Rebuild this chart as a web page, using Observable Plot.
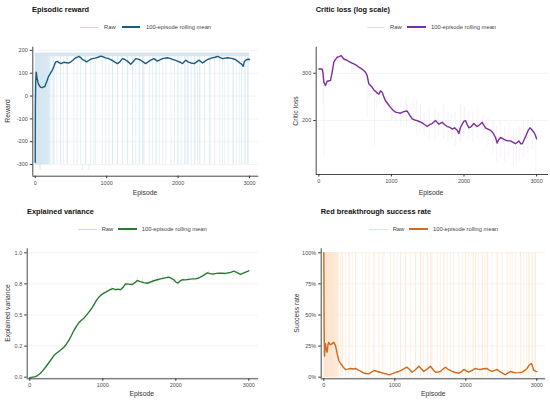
<!DOCTYPE html>
<html><head><meta charset="utf-8">
<script src="https://cdn.jsdelivr.net/npm/d3@7"></script>
<script src="https://cdn.jsdelivr.net/npm/@observablehq/plot@0.6"></script>
<style>
body{margin:0;background:#fff;font-family:"Liberation Sans",Arial,sans-serif;}
#root{position:relative;width:550px;height:402px;overflow:hidden;background:#fff;}
.panel{position:absolute;width:275px;height:202px;}
.title{position:absolute;font-weight:bold;font-size:7.4px;color:#111;white-space:nowrap;transform:translateY(-50%);}
.leg{position:absolute;font-size:5.8px;color:#444;white-space:nowrap;transform:translateY(-50%);}
.legline{position:absolute;height:0;}
.axt{position:absolute;font-size:6.8px;color:#333;white-space:nowrap;transform:translate(-50%,-50%);}
.axty{transform:translate(-50%,-50%) rotate(-90deg);}
.panel svg{position:absolute;left:0;top:40px;}
</style></head><body><div id="root"></div><script>
// ---------- data ----------
const xTicks = [0, 1000, 2000, 3000];

// Episodes where red broke through (raw reward ~ -300, raw success = 1)
const breachEpisodes = [0, 3, 5, 8, 11, 14, 17, 20, 24, 27, 31, 34, 38, 42, 45, 49, 53, 57, 60, 64, 68, 71, 75, 79, 83, 86, 90, 94, 98, 102, 106, 110, 114, 118, 122, 127, 131, 136, 140, 145, 150, 155, 160, 166, 172, 178, 185, 192, 200, 210,
  238, 259, 262, 305, 352, 356, 399, 446, 449, 540, 587, 636, 704, 708, 775, 822, 846, 939, 986, 1033, 1080, 1083, 1150, 1155, 1221, 1291, 1294, 1362, 1366, 1408, 1456, 1459, 1503, 1507, 1524, 1597, 1643, 1690, 1693, 1738, 1784, 1829, 1901, 1949, 1995, 1999, 2042, 2090, 2109, 2136, 2140, 2183, 2231, 2235, 2272, 2301, 2305, 2372, 2442, 2446, 2512, 2583, 2623, 2653, 2699, 2770, 2774, 2817, 2857, 2887, 2891, 2934, 2938, 2974, 2981];
const deepEpisodes = [55, 75, 660, 750];
const rewardBandEp = [0, 3000];
const rewardBandLo = [172, 172];
const rewardBandHi = [189, 189];

// Episodic reward, 100-episode rolling mean
const rewardEp = [0, 2, 6, 14, 25, 37, 50, 65, 80, 98, 115, 135, 150, 168, 185, 205, 222, 238, 260, 285, 310, 331, 360, 400, 440, 471, 500, 530, 565, 590, 612, 640, 660, 682, 720, 760, 799, 840, 880, 916, 950, 986, 1020, 1056, 1100, 1150, 1185, 1220, 1255, 1290, 1337, 1370, 1407, 1440, 1477, 1510, 1547, 1580, 1617, 1663, 1710, 1745, 1781, 1815, 1851, 1885, 1921, 1955, 1991, 2030, 2062, 2085, 2108, 2140, 2178, 2225, 2260, 2295, 2342, 2375, 2412, 2450, 2482, 2520, 2553, 2590, 2623, 2660, 2693, 2730, 2763, 2800, 2833, 2865, 2893, 2912, 2926, 2960, 2988, 3000];
const rewardMean = [-290, -50, 60, 105, 80, 61, 50, 42, 38, 37, 40, 42, 55, 69, 85, 95, 105, 113, 128, 149, 152, 146, 142, 148, 146, 145, 150, 158, 168, 170, 174, 168, 160, 157, 150, 158, 164, 166, 170, 175, 172, 167, 165, 160, 152, 142, 150, 164, 160, 153, 139, 150, 164, 162, 157, 150, 142, 150, 157, 164, 153, 158, 164, 166, 168, 165, 161, 157, 153, 148, 142, 150, 157, 150, 145, 142, 150, 157, 145, 152, 160, 164, 168, 170, 174, 168, 164, 166, 168, 166, 164, 160, 153, 145, 139, 130, 150, 160, 161, 160];
const rewardTicks = [-300, -200, -100, 0, 100, 200];

// Critic loss (log scale)
const lossEp = [0, 46, 58, 69, 92, 115, 161, 184, 207, 230, 253, 280, 308, 344, 380, 413, 450, 482, 520, 551, 585, 620, 645, 666, 689, 712, 735, 758, 781, 804, 827, 850, 873, 896, 919, 955, 988, 1020, 1056, 1090, 1125, 1170, 1217, 1250, 1286, 1320, 1355, 1390, 1423, 1460, 1492, 1525, 1561, 1607, 1653, 1699, 1735, 1768, 1800, 1837, 1870, 1906, 1929, 1950, 1975, 2000, 2021, 2045, 2066, 2100, 2135, 2160, 2181, 2215, 2250, 2275, 2296, 2330, 2365, 2400, 2434, 2457, 2480, 2503, 2540, 2572, 2605, 2641, 2675, 2710, 2735, 2756, 2780, 2802, 2830, 2862, 2885, 2908, 2925, 2940, 2963, 2985, 3000];
const lossMean = [311, 311, 300, 278, 270, 280, 282, 303, 330, 338, 344, 346, 349, 339, 336, 332, 328, 325, 321, 316, 312, 307, 302, 294, 274, 270, 266, 260, 257, 253, 251, 258, 255, 245, 237, 230, 224, 219, 215, 214, 213, 216, 217, 210, 203, 201, 200, 198, 196, 193, 190, 193, 195, 200, 194, 197, 193, 190, 189, 186, 188, 184, 179, 188, 194, 199, 200, 193, 188, 190, 195, 192, 190, 193, 197, 192, 188, 186, 184, 180, 173, 165, 170, 173, 171, 169, 168, 168, 166, 164, 166, 168, 164, 164, 170, 178, 184, 188, 186, 184, 181, 176, 171];
const lossRawEp = [60, 70, 200, 330, 450, 666, 690, 767, 800, 900, 1000, 1060, 1130, 1210, 1300, 1350, 1400, 1450, 1520, 1600, 1650, 1720, 1780, 1830, 1880, 1950, 2010, 2060, 2120, 2190, 2260, 2330, 2400, 2450, 2500, 2560, 2620, 2680, 2720, 2760, 2820, 2880, 2940, 2990];
const lossRawLo = [230, 146, 300, 310, 300, 205, 240, 161, 220, 215, 200, 195, 190, 190, 185, 175, 180, 175, 170, 170, 175, 170, 165, 170, 160, 165, 175, 170, 165, 170, 170, 160, 150, 140, 145, 140, 145, 135, 140, 140, 145, 150, 155, 128];
const lossRawHi = [320, 335, 345, 345, 335, 300, 290, 270, 270, 250, 240, 230, 235, 240, 235, 240, 230, 215, 220, 225, 215, 230, 215, 210, 215, 230, 225, 215, 215, 220, 210, 205, 200, 190, 200, 190, 195, 180, 185, 190, 200, 200, 205, 185];
const lossTicks = [200, 300];

// Explained variance
const varEp = [0, 40, 78, 110, 146, 180, 215, 250, 283, 329, 360, 397, 430, 466, 500, 534, 570, 603, 640, 671, 705, 740, 775, 808, 845, 877, 910, 945, 980, 1014, 1060, 1105, 1140, 1174, 1210, 1242, 1275, 1311, 1355, 1402, 1440, 1471, 1515, 1562, 1610, 1653, 1700, 1744, 1790, 1836, 1870, 1904, 1940, 1973, 2000, 2027, 2055, 2087, 2130, 2178, 2225, 2269, 2300, 2338, 2385, 2430, 2475, 2521, 2580, 2635, 2680, 2726, 2760, 2795, 2840, 2886, 2940, 2991, 3000];
const varMean = [-0.005, 0.0, 0.005, 0.015, 0.032, 0.055, 0.08, 0.108, 0.134, 0.174, 0.19, 0.207, 0.222, 0.241, 0.265, 0.295, 0.335, 0.375, 0.41, 0.437, 0.458, 0.474, 0.497, 0.523, 0.55, 0.582, 0.615, 0.643, 0.662, 0.675, 0.69, 0.705, 0.712, 0.703, 0.708, 0.703, 0.72, 0.75, 0.748, 0.745, 0.76, 0.777, 0.768, 0.76, 0.755, 0.765, 0.775, 0.783, 0.79, 0.796, 0.8, 0.804, 0.795, 0.783, 0.765, 0.756, 0.772, 0.783, 0.782, 0.786, 0.79, 0.79, 0.795, 0.804, 0.82, 0.839, 0.832, 0.83, 0.836, 0.836, 0.834, 0.839, 0.845, 0.852, 0.84, 0.826, 0.84, 0.852, 0.855];
const varRawEp = [1050, 1120, 1190, 1260, 1330, 1400, 1470, 1540, 1610, 1680, 1750, 1820, 1890, 1960, 2030, 2100, 2170, 2240, 2310, 2380, 2450, 2520];
const varRawLo = [0.68, 0.69, 0.69, 0.70, 0.73, 0.73, 0.75, 0.74, 0.74, 0.75, 0.76, 0.77, 0.78, 0.76, 0.74, 0.76, 0.77, 0.77, 0.78, 0.80, 0.82, 0.81];
const varRawHi = [0.72, 0.73, 0.73, 0.74, 0.78, 0.77, 0.80, 0.79, 0.79, 0.80, 0.81, 0.82, 0.83, 0.81, 0.79, 0.80, 0.81, 0.82, 0.83, 0.85, 0.86, 0.85];
const varTicks = [0, 0.25, 0.5, 0.75, 1];
const varTickLabels = ["0.0", "0.2", "0.5", "0.8", "1.0"];

// Red breakthrough success rate, rolling mean
const succEp = [0, 4, 10, 24, 35, 47, 58, 70, 90, 117, 140, 164, 188, 211, 235, 258, 280, 305, 340, 376, 410, 446, 470, 493, 530, 563, 600, 634, 670, 704, 730, 751, 790, 822, 870, 916, 950, 986, 1020, 1056, 1090, 1127, 1150, 1174, 1210, 1244, 1290, 1338, 1370, 1408, 1455, 1502, 1540, 1573, 1610, 1643, 1680, 1714, 1760, 1808, 1855, 1902, 1940, 1972, 2010, 2042, 2090, 2136, 2170, 2207, 2250, 2300, 2335, 2371, 2405, 2441, 2480, 2512, 2559, 2595, 2629, 2665, 2700, 2745, 2793, 2830, 2864, 2897, 2925, 2945, 2958, 2975, 2991, 3000];
const succMean = [1.0, 0.40, 0.17, 0.27, 0.22, 0.20, 0.26, 0.28, 0.26, 0.27, 0.28, 0.255, 0.19, 0.134, 0.11, 0.094, 0.075, 0.062, 0.065, 0.07, 0.066, 0.07, 0.062, 0.054, 0.045, 0.032, 0.03, 0.027, 0.04, 0.054, 0.05, 0.046, 0.04, 0.035, 0.028, 0.019, 0.025, 0.032, 0.04, 0.046, 0.055, 0.067, 0.075, 0.08, 0.06, 0.04, 0.06, 0.088, 0.07, 0.046, 0.065, 0.088, 0.06, 0.04, 0.042, 0.046, 0.065, 0.08, 0.06, 0.046, 0.038, 0.032, 0.045, 0.062, 0.05, 0.04, 0.055, 0.07, 0.065, 0.062, 0.068, 0.07, 0.055, 0.046, 0.055, 0.062, 0.045, 0.035, 0.019, 0.035, 0.046, 0.04, 0.035, 0.037, 0.04, 0.055, 0.07, 0.10, 0.11, 0.08, 0.054, 0.05, 0.046, 0.045];
const succTicks = [0, 0.25, 0.5, 0.75, 1];
const succTickLabels = ["0%", "25%", "50%", "75%", "100%"];

// ---------- helpers ----------
const pts = (xs, ys) => xs.map((x, i) => ({x, y: ys[i]}));
const rng = (xs, lo, hi) => xs.map((x, i) => ({x, lo: lo[i], hi: hi[i]}));

function makePlot({mt, mb, ml, mr, xDomain, yDomain, yType, yTicks, yFormat, marks}) {
  return Plot.plot({
    width: 275, height: 150,
    marginTop: mt, marginBottom: mb, marginLeft: ml, marginRight: mr,
    style: {fontFamily: '"Liberation Sans", Arial, sans-serif', fontSize: "5.5px", color: "#4d4d4d", background: "transparent", overflow: "visible"},
    x: {domain: xDomain},
    y: {domain: yDomain, type: yType || "linear"},
    marks: [
      Plot.gridY(yTicks, {stroke: "#ebebeb", strokeOpacity: 1, strokeWidth: 0.6}),
      ...marks,
      Plot.ruleX([xDomain[0]], {stroke: "#333", strokeWidth: 0.9}),
      Plot.ruleY([yDomain[0]], {stroke: "#333", strokeWidth: 0.9}),
      Plot.axisX(xTicks, {tickSize: 2.5, tickPadding: 2, label: null, stroke: "#333", tickFormat: d => String(d)}),
      Plot.axisY(yTicks, {tickSize: 2.5, tickPadding: 2.5, label: null, stroke: "#333", tickFormat: yFormat})
    ]
  });
}

function addPanel({left, top, title, titleX, titleY, legY, legX, rawColor, meanColor, xLabX, xLabY, yLab, yLabX, yLabY, plot}) {
  const p = document.createElement("div");
  p.className = "panel";
  p.style.left = left + "px"; p.style.top = top + "px";
  const t = document.createElement("div");
  t.className = "title"; t.textContent = title;
  t.style.left = titleX + "px"; t.style.top = titleY + "px";
  p.appendChild(t);
  const [r0, r1, rt, m0, m1, mt] = legX;
  const l1 = document.createElement("div"); l1.className = "legline";
  l1.style.cssText += `left:${r0}px;width:${r1 - r0}px;top:${legY - 0.5}px;border-top:1px solid ${rawColor};`;
  const l2 = document.createElement("div"); l2.className = "legline";
  l2.style.cssText += `left:${m0}px;width:${m1 - m0}px;top:${legY - 1}px;border-top:2px solid ${meanColor};`;
  const s1 = document.createElement("div"); s1.className = "leg"; s1.textContent = "Raw";
  s1.style.left = rt + "px"; s1.style.top = legY + "px";
  const s2 = document.createElement("div"); s2.className = "leg"; s2.textContent = "100-episode rolling mean";
  s2.style.left = mt + "px"; s2.style.top = legY + "px";
  p.append(l1, s1, l2, s2);
  p.appendChild(plot);
  const xl = document.createElement("div"); xl.className = "axt"; xl.textContent = "Episode";
  xl.style.left = xLabX + "px"; xl.style.top = xLabY + "px";
  const yl = document.createElement("div"); yl.className = "axt axty"; yl.textContent = yLab;
  yl.style.left = yLabX + "px"; yl.style.top = yLabY + "px";
  p.append(xl, yl);
  document.getElementById("root").appendChild(p);
}

// ---------- panel 1: reward ----------
const c1raw = "#d3e5f0", c1 = "#1c5a80";
addPanel({
  left: 0, top: 0, title: "Episodic reward", titleX: 32, titleY: 8.5,
  legY: 27.3, legX: [80, 98, 104, 122, 140, 146], rawColor: "#bcd6e6", meanColor: c1,
  xLabX: 145, xLabY: 191.5, yLab: "Reward", yLabX: 7, yLabY: 110.7,
  plot: makePlot({
    mt: 6.7, mb: 14.3, ml: 32.3, mr: 16.7,
    xDomain: [-34, 3130], yDomain: [-351, 214],
    yTicks: rewardTicks, yFormat: d => String(d),
    marks: [
      Plot.areaY(rng(rewardBandEp, rewardBandLo, rewardBandHi), {x: "x", y1: "lo", y2: "hi", fill: "#d6e7f1"}),
      Plot.ruleX(breachEpisodes, {x: d => d, y1: () => -300, y2: () => 185, stroke: c1raw, strokeWidth: 0.6}),
      Plot.ruleX(deepEpisodes, {x: d => d, y1: () => -325, y2: () => -300, stroke: c1raw, strokeWidth: 0.6}),
      Plot.line(pts(rewardEp, rewardMean), {x: "x", y: "y", stroke: c1, strokeWidth: 1.4})
    ]
  })
});

// ---------- panel 2: critic loss ----------
const c2raw = "#f1e7f5", c2 = "#7a2f9c";
addPanel({
  left: 275, top: 0, title: "Critic loss (log scale)", titleX: 40.7, titleY: 8.7,
  legY: 27.3, legX: [91.7, 110, 115, 132, 150.7, 156], rawColor: "#e8d9ef", meanColor: c2,
  xLabX: 156, xLabY: 192, yLab: "Critic loss", yLabX: 20, yLabY: 110.7,
  plot: makePlot({
    mt: 6.7, mb: 16, ml: 40.7, mr: 2,
    xDomain: [-36, 3164], yDomain: [126, 375], yType: "log",
    yTicks: lossTicks, yFormat: d => String(d),
    marks: [
      Plot.ruleX(rng(lossRawEp, lossRawLo, lossRawHi), {x: "x", y1: "lo", y2: "hi", stroke: c2raw, strokeWidth: 0.6}),
      Plot.line(pts(lossEp, lossMean), {x: "x", y: "y", stroke: c2, strokeWidth: 1.4})
    ]
  })
});

// ---------- panel 3: explained variance ----------
const c3raw = "#d4eccd", c3 = "#2a7a36";
addPanel({
  left: 0, top: 200, title: "Explained variance", titleX: 27, titleY: 11,
  legY: 29.3, legX: [77.7, 96.7, 101.7, 118, 136.7, 141.7], rawColor: "#c5e6bd", meanColor: c3,
  xLabX: 141.7, xLabY: 193.3, yLab: "Explained variance", yLabX: 7, yLabY: 113.3,
  plot: makePlot({
    mt: 8.3, mb: 11.7, ml: 26.7, mr: 17,
    xDomain: [-36, 3133], yDomain: [-0.013, 1.032],
    yTicks: varTicks, yFormat: d => varTickLabels[varTicks.indexOf(d)],
    marks: [
      Plot.ruleX(rng(varRawEp, varRawLo, varRawHi), {x: "x", y1: "lo", y2: "hi", stroke: c3raw, strokeWidth: 0.7}),
      Plot.line(pts(varEp, varMean), {x: "x", y: "y", stroke: c3, strokeWidth: 1.4})
    ]
  })
});

// ---------- panel 4: success rate ----------
const c4raw = "#fde5d0", c4 = "#d2691e";
addPanel({
  left: 275, top: 200, title: "Red breakthrough success rate", titleX: 45.7, titleY: 11,
  legY: 29.3, legX: [94, 113, 117.7, 134, 153, 158], rawColor: "#fbd9bb", meanColor: c4,
  xLabX: 158.3, xLabY: 193.3, yLab: "Success rate", yLabX: 20.7, yLabY: 113.3,
  plot: makePlot({
    mt: 8.3, mb: 11.7, ml: 45.7, mr: 5,
    xDomain: [-37, 3123], yDomain: [-0.013, 1.032],
    yTicks: succTicks, yFormat: d => succTickLabels[succTicks.indexOf(d)],
    marks: [
      Plot.ruleX(breachEpisodes, {x: d => d, y1: () => 0, y2: () => 1, stroke: c4raw, strokeWidth: 0.6}),
      Plot.line(pts(succEp, succMean), {x: "x", y: "y", stroke: c4, strokeWidth: 1.4})
    ]
  })
});
</script></body></html>
